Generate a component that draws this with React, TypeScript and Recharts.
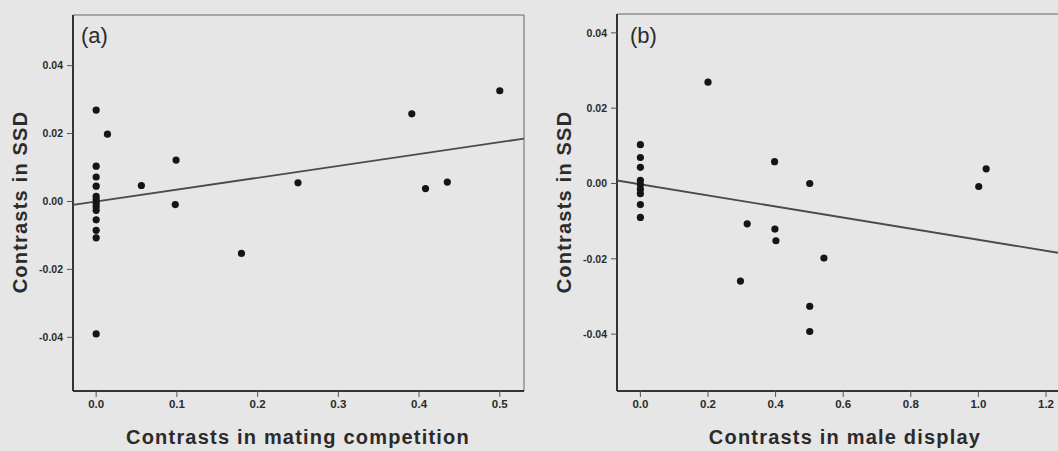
import React from 'react';
import {
  ScatterChart,
  Scatter,
  XAxis,
  YAxis,
  ReferenceLine,
} from 'recharts';

// panel (a): mating competition vs SSD
const matingX = [0, 0.014, 0, 0, 0, 0, 0, 0, 0, 0, 0, 0, 0, 0, 0.056, 0.099, 0.098, 0.18, 0.25, 0.391, 0.408, 0.435, 0.5];
const matingY = [0.0269, 0.0198, 0.0104, 0.0072, 0.0045, 0.0015, 0.0005, -0.0005, -0.0015, -0.0026, -0.0054, -0.0085, -0.0107, -0.039, 0.0047, 0.0122, -0.0009, -0.0153, 0.0055, 0.0258, 0.0038, 0.0057, 0.0326];
const fitAX = [-0.0287, 0.53];
const fitAY = [-0.001, 0.0185];

// panel (b): male display vs SSD
const displayX = [0.2, 0, 0, 0, 0, 0, 0, 0, 0, 0, 0.397, 0.501, 1.001, 1.023, 0.316, 0.398, 0.401, 0.543, 0.296, 0.501, 0.501];
const displayY = [0.0269, 0.0103, 0.0069, 0.0043, 0.0008, -0.0003, -0.0015, -0.0027, -0.0056, -0.009, 0.0058, 0.0, -0.0008, 0.0039, -0.0107, -0.0121, -0.0152, -0.0198, -0.0259, -0.0326, -0.0393];
const fitBX = [-0.0692, 1.2355];
const fitBY = [0.0008, -0.0184];

const ticksA = [0, 0.1, 0.2, 0.3, 0.4, 0.5];
const ticksB = [0, 0.2, 0.4, 0.6, 0.8, 1.0, 1.2];
const yTicks = [-0.04, -0.02, 0, 0.02, 0.04];

const pts = (xs: number[], ys: number[]) => xs.map((x, i) => ({ x, y: ys[i] }));

const FONT = '"Liberation Sans", Arial, sans-serif';
const INK = '#2b2b2b';
const BG = '#e6e6e6';

const Dot = (props: any) => <circle cx={props.cx} cy={props.cy} r={3.6} fill="#151515" />;
const NoDot = () => <g />;

const tickX = { fill: INK, fontSize: 11.5, fontWeight: 'bold', fontFamily: FONT };
const tickY = { fill: INK, fontSize: 10.5, fontWeight: 'bold', fontFamily: FONT };

interface PanelProps {
  left: number;
  width: number;
  marginLeft: number;
  marginRight: number;
  top: number;
  xDomain: [number, number];
  yDomain: [number, number];
  xTicks: number[];
  data: { x: number; y: number }[];
  fit: { x: number; y: number }[];
  rightBorder: boolean;
}

function Panel(p: PanelProps) {
  return (
    <div style={{ position: 'absolute', left: p.left, top: 0 }}>
      <ScatterChart
        width={p.width}
        height={451}
        margin={{ top: p.top, right: p.marginRight, bottom: 30, left: p.marginLeft }}
      >
        <XAxis
          type="number"
          dataKey="x"
          domain={p.xDomain}
          ticks={p.xTicks}
          allowDataOverflow
          tickFormatter={(v: number) => v.toFixed(1)}
          tick={tickX}
          tickSize={6}
          tickMargin={3}
          height={30}
          axisLine={{ stroke: '#333', strokeWidth: 2 }}
          tickLine={{ stroke: '#555' }}
        />
        <YAxis
          type="number"
          dataKey="y"
          domain={p.yDomain}
          ticks={yTicks}
          allowDataOverflow
          tickFormatter={(v: number) => v.toFixed(2)}
          tick={tickY}
          tickSize={6}
          tickMargin={4}
          width={60}
          axisLine={{ stroke: '#333', strokeWidth: 2 }}
          tickLine={{ stroke: '#555' }}
        />
        <ReferenceLine y={p.yDomain[1]} stroke="#666" strokeWidth={1} />
        {p.rightBorder && <ReferenceLine x={p.xDomain[1]} stroke="#666" strokeWidth={1} />}
        <Scatter
          data={p.fit}
          line={{ stroke: '#4a4a4a', strokeWidth: 1.8 }}
          shape={NoDot}
          isAnimationActive={false}
        />
        <Scatter data={p.data} shape={Dot} isAnimationActive={false} />
      </ScatterChart>
    </div>
  );
}

const titleStyle: React.CSSProperties = {
  position: 'absolute',
  fontFamily: FONT,
  fontWeight: 'bold',
  fontSize: 20,
  letterSpacing: 1.2,
  color: INK,
  whiteSpace: 'nowrap',
};

const tagStyle: React.CSSProperties = {
  position: 'absolute',
  fontFamily: FONT,
  fontSize: 22,
  color: INK,
  lineHeight: 1,
};

export default function App() {
  return (
    <div style={{ position: 'absolute', left: 0, top: 0, width: 1058, height: 451, background: BG, overflow: 'hidden' }}>
      <Panel
        left={0}
        width={540}
        marginLeft={13}
        marginRight={16}
        top={15}
        xDomain={[-0.0287, 0.53]}
        yDomain={[-0.0558, 0.0549]}
        xTicks={ticksA}
        data={pts(matingX, matingY)}
        fit={pts(fitAX, fitAY)}
        rightBorder
      />
      <Panel
        left={530}
        width={528}
        marginLeft={27}
        marginRight={0}
        top={14}
        xDomain={[-0.0692, 1.2355]}
        yDomain={[-0.0551, 0.045]}
        xTicks={ticksB}
        data={pts(displayX, displayY)}
        fit={pts(fitBX, fitBY)}
        rightBorder={false}
      />

      <div style={{ ...tagStyle, left: 81, top: 25 }}>(a)</div>
      <div style={{ ...tagStyle, left: 630, top: 25 }}>(b)</div>

      <div style={{ ...titleStyle, left: 298, top: 437, transform: 'translate(-50%, -50%)' }}>
        Contrasts in mating competition
      </div>
      <div style={{ ...titleStyle, left: 845, top: 437, transform: 'translate(-50%, -50%)' }}>
        Contrasts in male display
      </div>
      <div style={{ ...titleStyle, left: 20, top: 202, transform: 'translate(-50%, -50%) rotate(-90deg)' }}>
        Contrasts in SSD
      </div>
      <div style={{ ...titleStyle, left: 564, top: 202, transform: 'translate(-50%, -50%) rotate(-90deg)' }}>
        Contrasts in SSD
      </div>
    </div>
  );
}
